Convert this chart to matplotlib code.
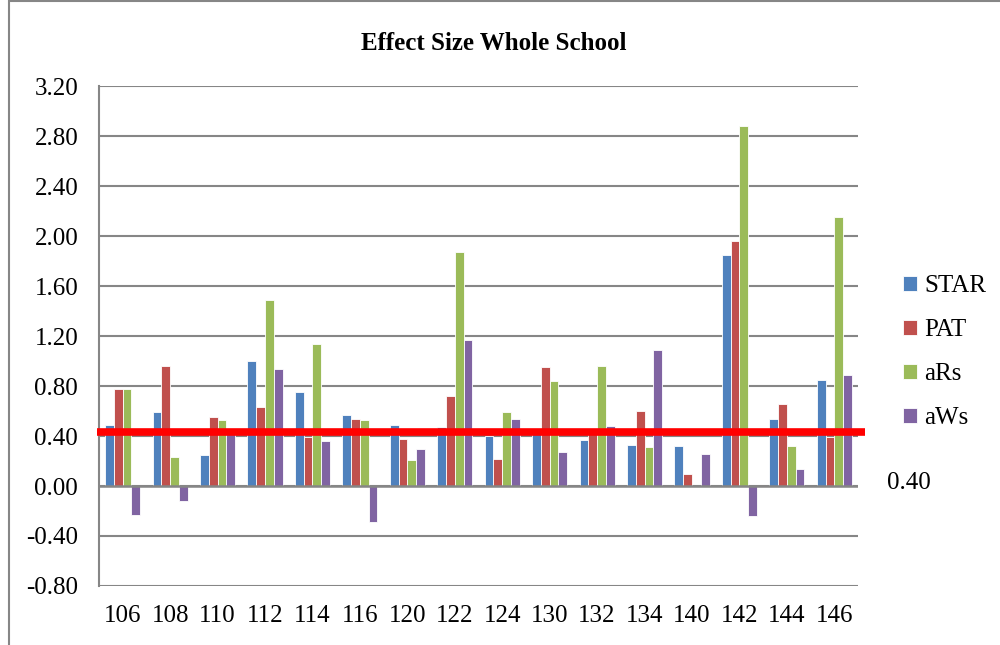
import matplotlib.pyplot as plt
from matplotlib.patches import Rectangle
import numpy as np

plt.rcParams['font.family'] = ['Liberation Serif', 'DejaVu Serif']

schools = ["106", "108", "110", "112", "114", "116", "120", "122",
           "124", "130", "132", "134", "140", "142", "144", "146"]
star = [0.49, 0.59, 0.25, 1.00, 0.75, 0.57, 0.49, 0.47,
        0.40, 0.42, 0.37, 0.33, 0.32, 1.85, 0.54, 0.85]
pat = [0.78, 0.96, 0.55, 0.63, 0.39, 0.54, 0.38, 0.72,
       0.22, 0.95, 0.42, 0.60, 0.10, 1.96, 0.66, 0.39]
ars = [0.78, 0.23, 0.53, 1.49, 1.14, 0.53, 0.21, 1.87,
       0.59, 0.84, 0.96, 0.31, -0.01, 2.88, 0.32, 2.15]
aws = [-0.23, -0.12, 0.42, 0.94, 0.36, -0.29, 0.30, 1.17,
       0.54, 0.27, 0.48, 1.09, 0.26, -0.24, 0.14, 0.89]
target = 0.43
target_label = "0.40"

series = [("STAR", star, "#4F81BD"), ("PAT", pat, "#C0504D"),
          ("aRs", ars, "#9BBB59"), ("aWs", aws, "#8064A2")]

fig = plt.figure(figsize=(10, 6.45), dpi=100)
ax = fig.add_axes([0.099, 0.0915, 0.759, 0.775])

x = np.arange(len(schools))
w = 0.185
for i, (name, vals, color) in enumerate(series):
    ax.bar(x + (i - 1.5) * w, vals, w, color=color, edgecolor="white",
           linewidth=0.6, label=name, zorder=3)

# threshold line
ax.plot([-0.55, 15.65], [target, target], color="#FF0000", linewidth=5.5,
        solid_capstyle="butt", clip_on=False, zorder=5)

ax.axhline(0, color="#868686", linewidth=1.8, zorder=4)
ax.set_xlim(-0.5, 15.5)
ax.set_ylim(-0.8, 3.2)
ticks = np.arange(-0.8, 3.21, 0.4)
ax.set_yticks(ticks)
ax.set_yticklabels([f"{v:.2f}" for v in ticks], fontsize=18)
ax.yaxis.grid(True, color="#868686", linewidth=1.5, zorder=0)
ax.set_axisbelow(True)
ax.set_xticks(x)
ax.set_xticklabels(schools, fontsize=18)
ax.tick_params(axis="x", length=0, pad=14)
ax.tick_params(axis="y", length=0, pad=15)
for s in ["top", "right", "bottom"]:
    ax.spines[s].set_visible(False)
ax.spines["left"].set_color("#868686")
ax.spines["left"].set_linewidth(1.5)

fig.text(0.494, 1 - 44 / 645, "Effect Size Whole School", fontsize=18,
         fontweight="bold", ha="center", va="center")

ax.legend(loc="center left", bbox_to_anchor=(1.03, 0.468), frameon=False,
          fontsize=18, handlelength=0.55, handleheight=0.55, handletextpad=0.3,
          labelspacing=0.88)
fig.text(0.887, 1 - 483 / 645, target_label, fontsize=18, va="center", ha="left")

# outer chart border
fig.patches.append(Rectangle((0.009, -0.1), 1.2, 1.098, transform=fig.transFigure,
                             fill=False, edgecolor="#868686", linewidth=1.5))

fig.savefig("out.png", dpi=100)
